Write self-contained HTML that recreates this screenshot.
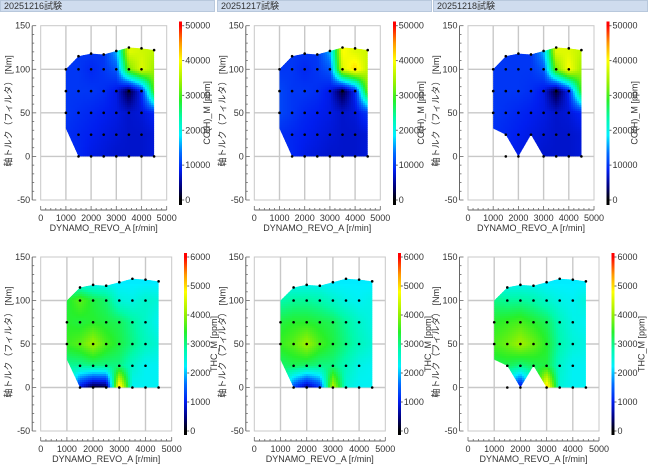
<!DOCTYPE html>
<html><head><meta charset="utf-8">
<style>
body{margin:0;background:#fff;font-family:"Liberation Sans","Noto Sans CJK JP",sans-serif;}
svg{display:block}
text{font-family:"Liberation Sans","Noto Sans CJK JP",sans-serif;fill:#333;font-size:9px}
</style></head>
<body>
<svg id="chart" width="650" height="471"></svg>
<script>
const rpmCols=[1000,1500,2000,2500,3000,3500,4000,4500];
const torqueRows=[0,25,50,75,100,120];
const xTicks=[0,1000,2000,3000,4000,5000];
const yTicks=[150,100,50,0,-50];
const panelTitles=["20251216試験","20251217試験","20251218試験"];
const coTicks=[0,10000,20000,30000,40000,50000];
const thcTicks=[0,1000,2000,3000,4000,5000,6000];
const topTorque=[100,115,118,117,121,125,124,122];
const hullA=[[1000,100],[1500,115],[2000,118],[2500,117],[3000,121],[3500,125],[4000,124],[4500,122],[4500,0],[1500,0],[1000,32]];
const hullC=[[1000,100],[1500,115],[2000,118],[2500,117],[3000,121],[3500,125],[4000,124],[4500,122],[4500,0],[3000,0],[2500,25],[2000,0],[1500,25],[1000,32]];
const co1=[[null,9000,8000,7500,7000,7000,7000,7500],[9500,9000,8500,8000,7500,7000,7000,7500],[10000,9500,9000,8500,8000,7000,7500,9000],[10000,10000,10000,9500,8000,1500,9000,30000],[10000,10000,9000,10000,12000,32000,38000,34000],[10000,10000,10000,10000,16000,38000,37000,36000]];
const co2=[[null,9000,8000,7500,7000,7000,7000,7500],[9500,9000,8500,8000,7500,7000,7000,7500],[11000,10000,9000,8500,8000,7000,7500,10000],[11000,10000,10000,9500,8000,1500,9000,32000],[10000,10000,9000,10000,12000,38000,42000,36000],[10000,10000,10000,10000,16000,40000,38000,37000]];
const co3=[[null,9000,8000,7500,7000,7000,7000,7500],[9500,9000,8500,8000,7500,7000,7000,7500],[10000,9500,9000,8500,8000,7000,7500,9000],[10000,10000,10000,9500,8000,1500,9000,30000],[10000,10000,10000,10000,12000,32000,40000,34000],[10000,10000,10000,10000,16000,38000,38000,36000]];
const thc1=[[null,900,100,200,5200,2300,2300,2300],[2900,2900,3000,3000,3000,2600,2300,2300],[3500,3700,4100,3600,3300,3000,2700,2500],[3400,3300,3400,3300,3200,2900,2600,2300],[3300,3700,3300,3100,2500,2400,2600,2500],[2600,2400,2300,2300,2200,2200,2200,2200]];
const thc2=[[null,1300,500,1200,4300,2500,2300,2300],[3100,3200,3100,3000,3000,2700,2400,2300],[3500,3700,4100,3600,3300,3000,2700,2500],[3300,3400,3400,3300,3200,2900,2600,2400],[2800,2900,2900,2800,2600,2400,2300,2400],[2400,2300,2300,2300,2200,2200,2200,2200]];
const thc3=[[null,2000,700,2600,5200,2500,2300,2300],[3200,3200,3000,3200,3300,2600,2300,2300],[3600,3800,4100,3800,3400,2800,2500,2400],[3400,3500,3600,3400,3200,2700,2400,2300],[3000,2900,2900,2800,2600,2400,2300,2500],[2400,2300,2300,2300,2200,2200,2200,2200]];

const NS='http://www.w3.org/2000/svg';
const svg=document.getElementById('chart');
function el(tag,attrs,parent){const e=document.createElementNS(NS,tag);for(const k in attrs)e.setAttribute(k,attrs[k]);(parent||svg).appendChild(e);return e;}
const stops=[[0,[0,0,0]],[0.08,[0,0,130]],[0.17,[0,30,240]],[0.27,[0,110,255]],[0.37,[0,240,255]],[0.47,[0,250,170]],[0.57,[40,240,40]],[0.67,[150,240,0]],[0.8,[255,255,0]],[0.9,[255,150,0]],[1,[255,0,0]]];
function cmap(f){f=Math.max(0,Math.min(1,f));for(let i=1;i<stops.length;i++){if(f<=stops[i][0]){const a=stops[i-1],b=stops[i];const t=(f-a[0])/(b[0]-a[0]);const c=a[1].map((v,j)=>Math.round(v+(b[1][j]-v)*t));return 'rgb('+c.join(',')+')';}}return 'rgb(255,0,0)';}
function interp(grid,r,t){
  let ci=(r-1000)/500;ci=Math.max(0,Math.min(6.999,ci));const c0=Math.floor(ci),fc=ci-c0;
  let ri;if(t<=100)ri=t/25;else ri=4+(t-100)/20;ri=Math.max(0,Math.min(4.999,ri));const r0=Math.floor(ri),fr=ri-r0;
  function g(a,b){let v=grid[a][b];if(v==null)v=grid[Math.min(a+1,5)][b];if(v==null)v=grid[a][Math.min(b+1,7)];if(v==null)v=grid[Math.max(a-1,0)][b];return v==null?grid[1][1]:v;}
  const v00=g(r0,c0),v01=g(r0,c0+1),v10=g(r0+1,c0),v11=g(r0+1,c0+1);
  return (v00*(1-fc)+v01*fc)*(1-fr)+(v10*(1-fc)+v11*fc)*fr;
}
function inPoly(px,py,poly){let ins=false;for(let i=0,j=poly.length-1;i<poly.length;j=i++){const xi=poly[i][0],yi=poly[i][1],xj=poly[j][0],yj=poly[j][1];if(((yi>py)!=(yj>py))&&(px<(xj-xi)*(py-yi)/(yj-yi)+xi))ins=!ins;}return ins;}
let clipId=0;
function panel(i,row,grid,hull,vmax,cbTicks,cbLabel){
  const x0=[40.7,254.3,468][i], w=row==0?126:131, y0=row==0?25.7:257, h=row==0?174.3:174;
  const sx=v=>x0+v/5000*w, sy=v=>y0+(150-v)/200*h;
  const g=el('g',{});
  
  
  const fr=el('rect',{x:x0,y:y0,width:w,height:h,fill:'#fff',stroke:'#c8c8c8','stroke-width':1},g);
  
  for(const t of [1000,2000,3000,4000]){const l=el('line',{x1:sx(t),x2:sx(t),y1:y0,y2:y0+h,stroke:'#c8c8c8','stroke-width':1.4},g);}
  for(const t of [100,50,0]){const l=el('line',{x1:x0,x2:x0+w,y1:sy(t),y2:sy(t),stroke:'#c8c8c8','stroke-width':1.4},g);}
  const hp=hull.map(p=>[sx(p[0]),sy(p[1])]);
  const xs=hp.map(p=>p[0]),ys=hp.map(p=>p[1]);
  const id='clip'+(clipId++);
  const cp=el('clipPath',{id:id},g);
  el('polygon',{points:hp.map(p=>p.join(',')).join(' ')},cp);
  const hm=el('g',{'shape-rendering':'crispEdges','clip-path':'url(#'+id+')'},g);
  
  const cs=2;
  for(let py=Math.floor(Math.min(...ys));py<Math.max(...ys);py+=cs){for(let px=Math.floor(Math.min(...xs));px<Math.max(...xs);px+=cs){
    const cx=px+cs/2,cy=py+cs/2;
    const r=(cx-x0)/w*5000,t=150-(cy-y0)/h*200;
    el('rect',{x:px,y:py,width:cs+0.3,height:cs+0.3,fill:cmap(interp(grid,r,t)/vmax)},hm);
  }}
  for(let ri=0;ri<torqueRows.length;ri++)for(let ci=0;ci<rpmCols.length;ci++){
    if(grid[ri][ci]==null)continue;const tq=ri==5?topTorque[ci]:torqueRows[ri];
    if(ri==5&&ci==0)continue;
    if(ri>0&&ri<5&&!inPoly(sx(rpmCols[ci])+0.3,sy(tq)-0.3,hp))continue;
    if(ri==0&&hull===hullC&&(ci==2||ci==3))continue;
    const d=el('circle',{cx:sx(rpmCols[ci]),cy:sy(tq),r:1.3,fill:'#000'},g);
    
  }
  if(hull===hullC){const d=el('circle',{cx:sx(2000),cy:sy(0),r:1.3,fill:'#000'},g);}
  const ay=y0+h+10;
  el('line',{x1:x0,x2:x0+w,y1:ay,y2:ay,stroke:'#666','stroke-width':1},g);
  for(let v=0;v<=5000;v+=200){el('line',{x1:sx(v),x2:sx(v),y1:ay-(v%1000==0?4:2),y2:ay,stroke:'#666','stroke-width':0.8},g);}
  for(const v of xTicks){const t=el('text',{x:sx(v),y:ay+11,'text-anchor':'middle'},g);t.textContent=v;}
  const xt=el('text',{x:x0+w/2,y:ay+21,'text-anchor':'middle'},g);xt.textContent='DYNAMO_REVO_A [r/min]';
  
  const ax=x0-8.5;
  el('line',{x1:ax,x2:ax,y1:y0,y2:y0+h,stroke:'#666','stroke-width':1},g);
  for(let v=-50;v<=150;v+=10){el('line',{x1:ax,x2:ax+(v%50==0?4:2),y1:sy(v),y2:sy(v),stroke:'#666','stroke-width':0.8},g);}
  for(const v of yTicks){const t=el('text',{x:ax-2,y:sy(v)+3,'text-anchor':'end'},g);t.textContent=v;}
  const yt=el('text',{x:0,y:0,'text-anchor':'middle',transform:'translate('+(x0-29)+','+(y0+h/2-2)+') rotate(-90)'},g);yt.textContent='軸トルク（フィルタ） [Nm]';
  
  const cbx=x0+w+12.5, cby0=y0-4, cby1=y0+h+4;
  const cb=el('g',{'shape-rendering':'crispEdges'},g);
  
  for(let y=cby0;y<cby1;y+=1){const v=(y0+h-y-0.5)/h*vmax;el('rect',{x:cbx,y:y,width:3,height:1.2,fill:cmap(v/vmax)},cb);}
  for(const v of cbTicks){const yy=y0+h-v/vmax*h;el('line',{x1:cbx+3,x2:cbx+5,y1:yy,y2:yy,stroke:'#666'},g);const t=el('text',{x:cbx+6,y:yy+3},g);t.textContent=v;}
  const ct=el('text',{x:0,y:0,'text-anchor':'middle',transform:'translate('+(cbx+(row==0?31:33))+','+(y0+h/2)+') rotate(-90)'},g);ct.textContent=cbLabel;
  
}
for(let i=0;i<3;i++){
  const hx=[0,217,433][i];
  const hb=el('rect',{x:hx+0.5,y:0.5,width:214,height:11,fill:'#cfdcee',stroke:'#b8c8dc'});
  
  const t=el('text',{x:hx+4,y:9});t.textContent=panelTitles[i];
  
}
panel(0,0,co1,hullA,50000,coTicks,'CO(H)_M [ppm]');
panel(1,0,co2,hullA,50000,coTicks,'CO(H)_M [ppm]');
panel(2,0,co3,hullC,50000,coTicks,'CO(H)_M [ppm]');
panel(0,1,thc1,hullA,6000,thcTicks,'THC_M [ppm]');
panel(1,1,thc2,hullA,6000,thcTicks,'THC_M [ppm]');
panel(2,1,thc3,hullC,6000,thcTicks,'THC_M [ppm]');
</script>
</body></html>
